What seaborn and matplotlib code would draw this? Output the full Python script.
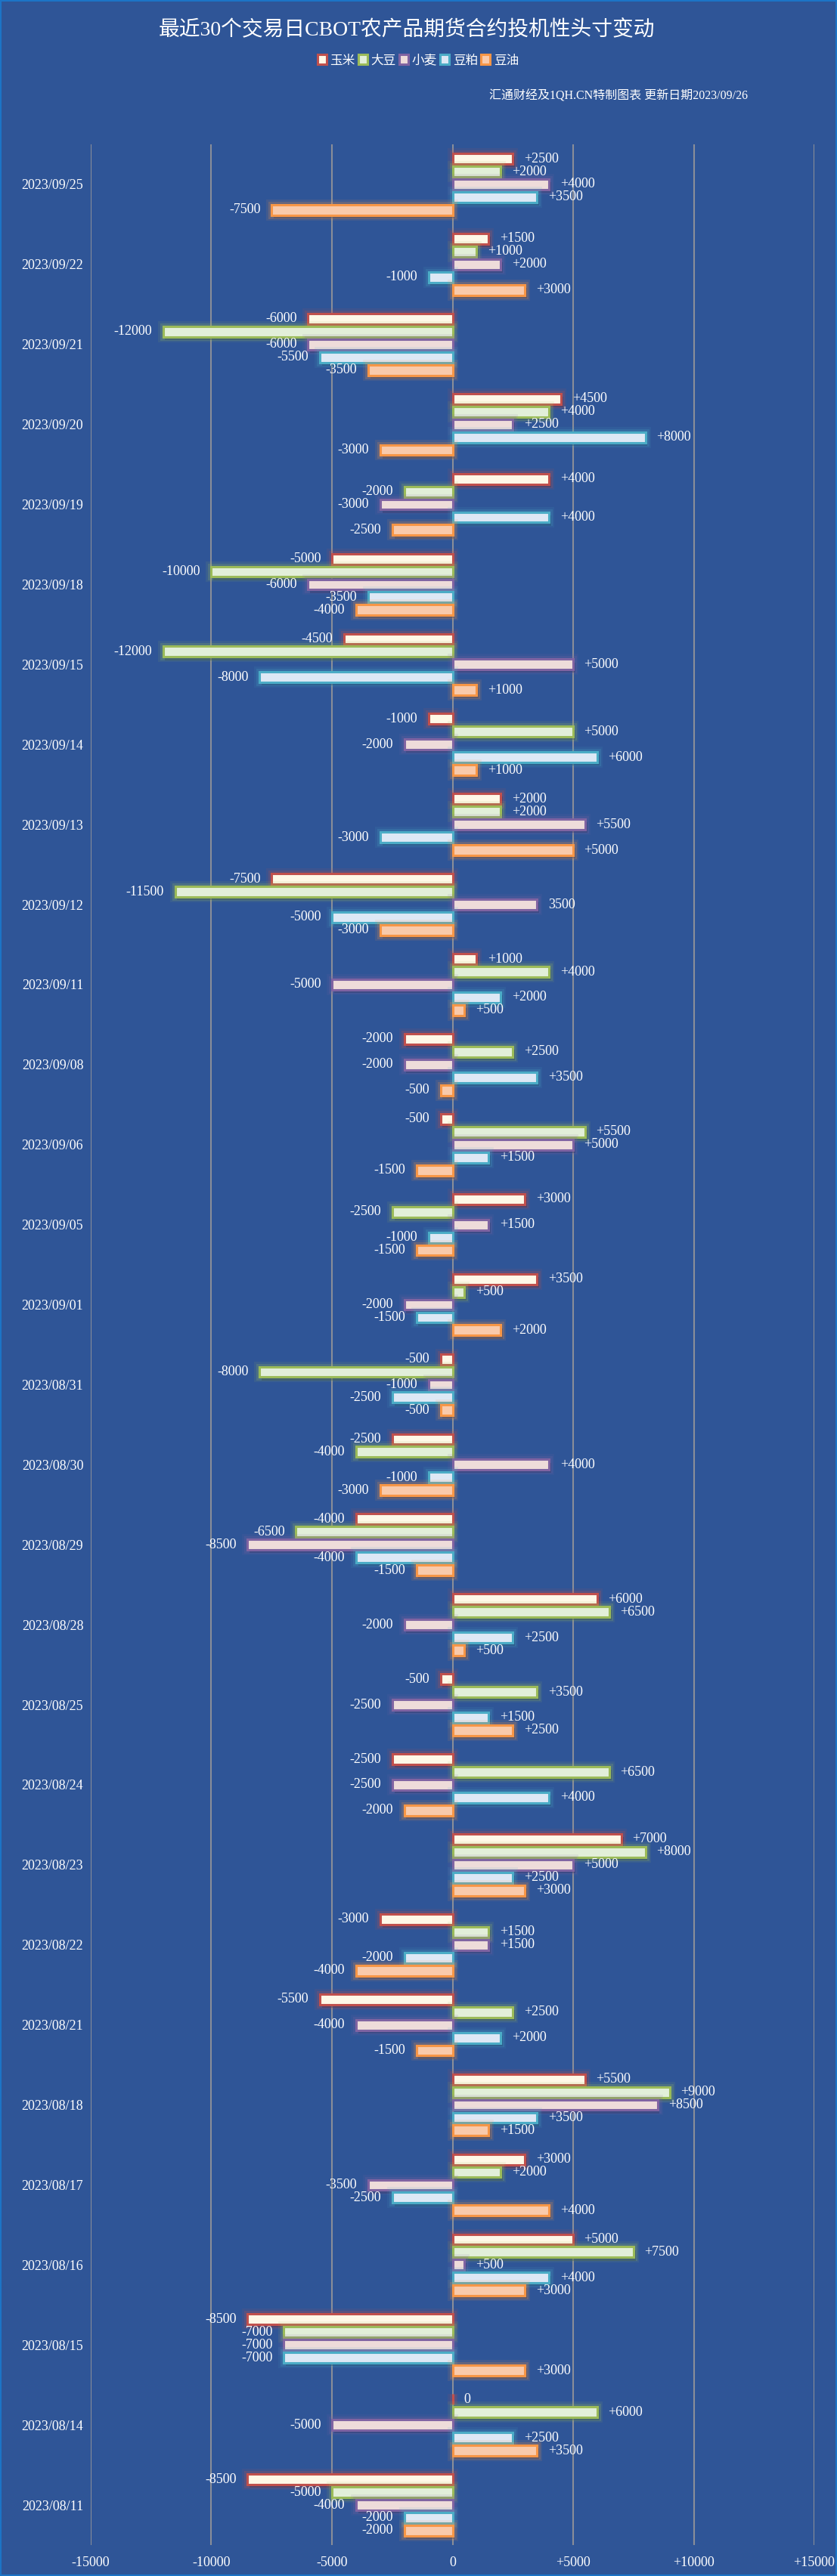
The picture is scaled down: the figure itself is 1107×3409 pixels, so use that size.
import numpy as np
import pandas as pd
import matplotlib
matplotlib.use("Agg")
import matplotlib.pyplot as plt
import seaborn as sns
from matplotlib import patheffects as pe
from matplotlib.patches import Patch, Rectangle
from matplotlib import font_manager as fm

# ---------------- data ----------------
dates = ["2023/09/25", "2023/09/22", "2023/09/21", "2023/09/20", "2023/09/19",
         "2023/09/18", "2023/09/15", "2023/09/14", "2023/09/13", "2023/09/12",
         "2023/09/11", "2023/09/08", "2023/09/06", "2023/09/05", "2023/09/01",
         "2023/08/31", "2023/08/30", "2023/08/29", "2023/08/28", "2023/08/25",
         "2023/08/24", "2023/08/23", "2023/08/22", "2023/08/21", "2023/08/18",
         "2023/08/17", "2023/08/16", "2023/08/15", "2023/08/14", "2023/08/11"]
series = ["玉米", "大豆", "小麦", "豆粕", "豆油"]
corn = [2500, 1500, -6000, 4500, 4000, -5000, -4500, -1000, 2000, -7500,
        1000, -2000, -500, 3000, 3500, -500, -2500, -4000, 6000, -500,
        -2500, 7000, -3000, -5500, 5500, 3000, 5000, -8500, 0, -8500]
soybean = [2000, 1000, -12000, 4000, -2000, -10000, -12000, 5000, 2000, -11500,
           4000, 2500, 5500, -2500, 500, -8000, -4000, -6500, 6500, 3500,
           6500, 8000, 1500, 2500, 9000, 2000, 7500, -7000, 6000, -5000]
wheat = [4000, 2000, -6000, 2500, -3000, -6000, 5000, -2000, 5500, 3500,
         -5000, -2000, 5000, 1500, -2000, -1000, 4000, -8500, -2000, -2500,
         -2500, 5000, 1500, -4000, 8500, -3500, 500, -7000, -5000, -4000]
soymeal = [3500, -1000, -5500, 8000, 4000, -3500, -8000, 6000, -3000, -5000,
           2000, 3500, 1500, -1000, -1500, -2500, -1000, -4000, 2500, 1500,
           4000, 2500, -2000, 2000, 3500, -2500, 4000, -7000, 2500, -2000]
soyoil = [-7500, 3000, -3500, -3000, -2500, -4000, 1000, 1000, 5000, -3000,
          500, -500, -1500, -1500, 2000, -500, -3000, -1500, 500, 2500,
          -2000, 3000, -4000, -1500, 1500, 4000, 3000, 3000, 3500, -2000]
label_overrides = {("2023/09/12", "小麦"): "3500"}
x_ticks = [-15000, -10000, -5000, 0, 5000, 10000, 15000]
x_tick_labels = ["-15000", "-10000", "-5000", "0", "+5000", "+10000", "+15000"]
title = "最近30个交易日CBOT农产品期货合约投机性头寸变动"
subtitle = "汇通财经及1QH.CN特制图表 更新日期2023/09/26"

# ---------------- style ----------------
fill_colors = ["#FFF8E7", "#E2EFD9", "#EEDCDA", "#DDE8F5", "#F9CAAB"]
edge_colors = ["#C0504D", "#9BBB59", "#8064A2", "#4BACC6", "#F79646"]
bg = "#2F5597"
grid_color = "#8A8E98"

sns.set_theme(style="white")
avail = {f.name for f in fm.fontManager.ttflist}
num_font = "Liberation Serif" if "Liberation Serif" in avail else "DejaVu Serif"
plt.rcParams["font.family"] = [num_font, "Noto Sans CJK SC", "DejaVu Sans"]
mixed = [num_font, "Noto Sans CJK SC", "DejaVu Sans"]
cjk = ["Noto Sans CJK SC", "DejaVu Sans"]

values = [corn, soybean, wheat, soymeal, soyoil]
df = pd.DataFrame({
    "date": np.repeat([dates], len(series), axis=0).ravel(),
    "series": np.repeat(series, len(dates)),
    "value": np.concatenate(values),
})
lookup = {(d, s): v for d, s, v in zip(df["date"], df["series"], df["value"])}

W, H = 1107, 3409
fig = plt.figure(figsize=(W / 100, H / 100), dpi=100, facecolor=bg)
ax = fig.add_axes([120 / W, 1 - 3368 / H, (1077 - 120) / W, (3368 - 191) / H])
ax.set_facecolor(bg)

sns.barplot(data=df, y="date", x="value", hue="series", hue_order=series,
            order=dates, orient="h", palette=fill_colors, saturation=1,
            width=0.8, gap=0.18, errorbar=None, legend=False, ax=ax)

for i, cont in enumerate(ax.containers):
    ec = edge_colors[i]
    labels = []
    for bar in cont:
        bar.set_edgecolor(ec)
        bar.set_linewidth(2.2)
        bar.set_zorder(3)
        bar.set_path_effects([
            pe.SimplePatchShadow(offset=(2, -3), shadow_rgbFace="#0E1F44", alpha=0.35),
            pe.Stroke(linewidth=10, foreground=ec, alpha=0.10),
            pe.Stroke(linewidth=6.5, foreground=ec, alpha=0.20),
            pe.Normal(),
        ])
        idx = int(round(bar.get_y() + bar.get_height() / 2))
        d = dates[idx]
        v = lookup[(d, series[i])]
        lbl = label_overrides.get((d, series[i]), f"+{v}" if v > 0 else f"{v}")
        labels.append(lbl)
    ax.bar_label(cont, labels=labels, padding=10.5, color="white", fontsize=13)

ax.set_xlim(-15000, 15000)
ax.set_ylim(29.5, -0.5)
ax.set_xticks(x_ticks)
ax.set_xticklabels(x_tick_labels, color="white", fontsize=13)
ax.tick_params(axis="x", length=0, pad=11)
ax.tick_params(axis="y", length=0, pad=7, labelcolor="white", labelsize=13)
ax.set_xlabel("")
ax.set_ylabel("")
ax.grid(axis="x", color=grid_color, linewidth=1.5)
ax.grid(axis="y", visible=False)
ax.set_axisbelow(True)
for s in ax.spines.values():
    s.set_visible(False)

fig.text(538 / W, 1 - 40 / H, title, ha="center", va="center", fontsize=20,
         color="white", family=mixed)
handles = [Patch(facecolor=f, edgecolor=e, linewidth=2.2) for f, e in zip(fill_colors, edge_colors)]
fig.legend(handles, series, loc="center", bbox_to_anchor=(553 / W, 1 - 80 / H), ncol=5,
           frameon=False, prop={"family": cjk, "size": 12}, labelcolor="white",
           handlelength=0.7, handleheight=0.8, handletextpad=0.3, columnspacing=0.25,
           borderaxespad=0, borderpad=0)
fig.text(989 / W, 1 - 127 / H, subtitle, ha="right", va="center", fontsize=11.5,
         color="white", family=mixed)

fig.add_artist(Rectangle((0, 0), 1, 1, transform=fig.transFigure, fill=False,
                         edgecolor="#1C74C6", linewidth=3, zorder=10))

fig.savefig("out.png", dpi=100, facecolor=bg)
